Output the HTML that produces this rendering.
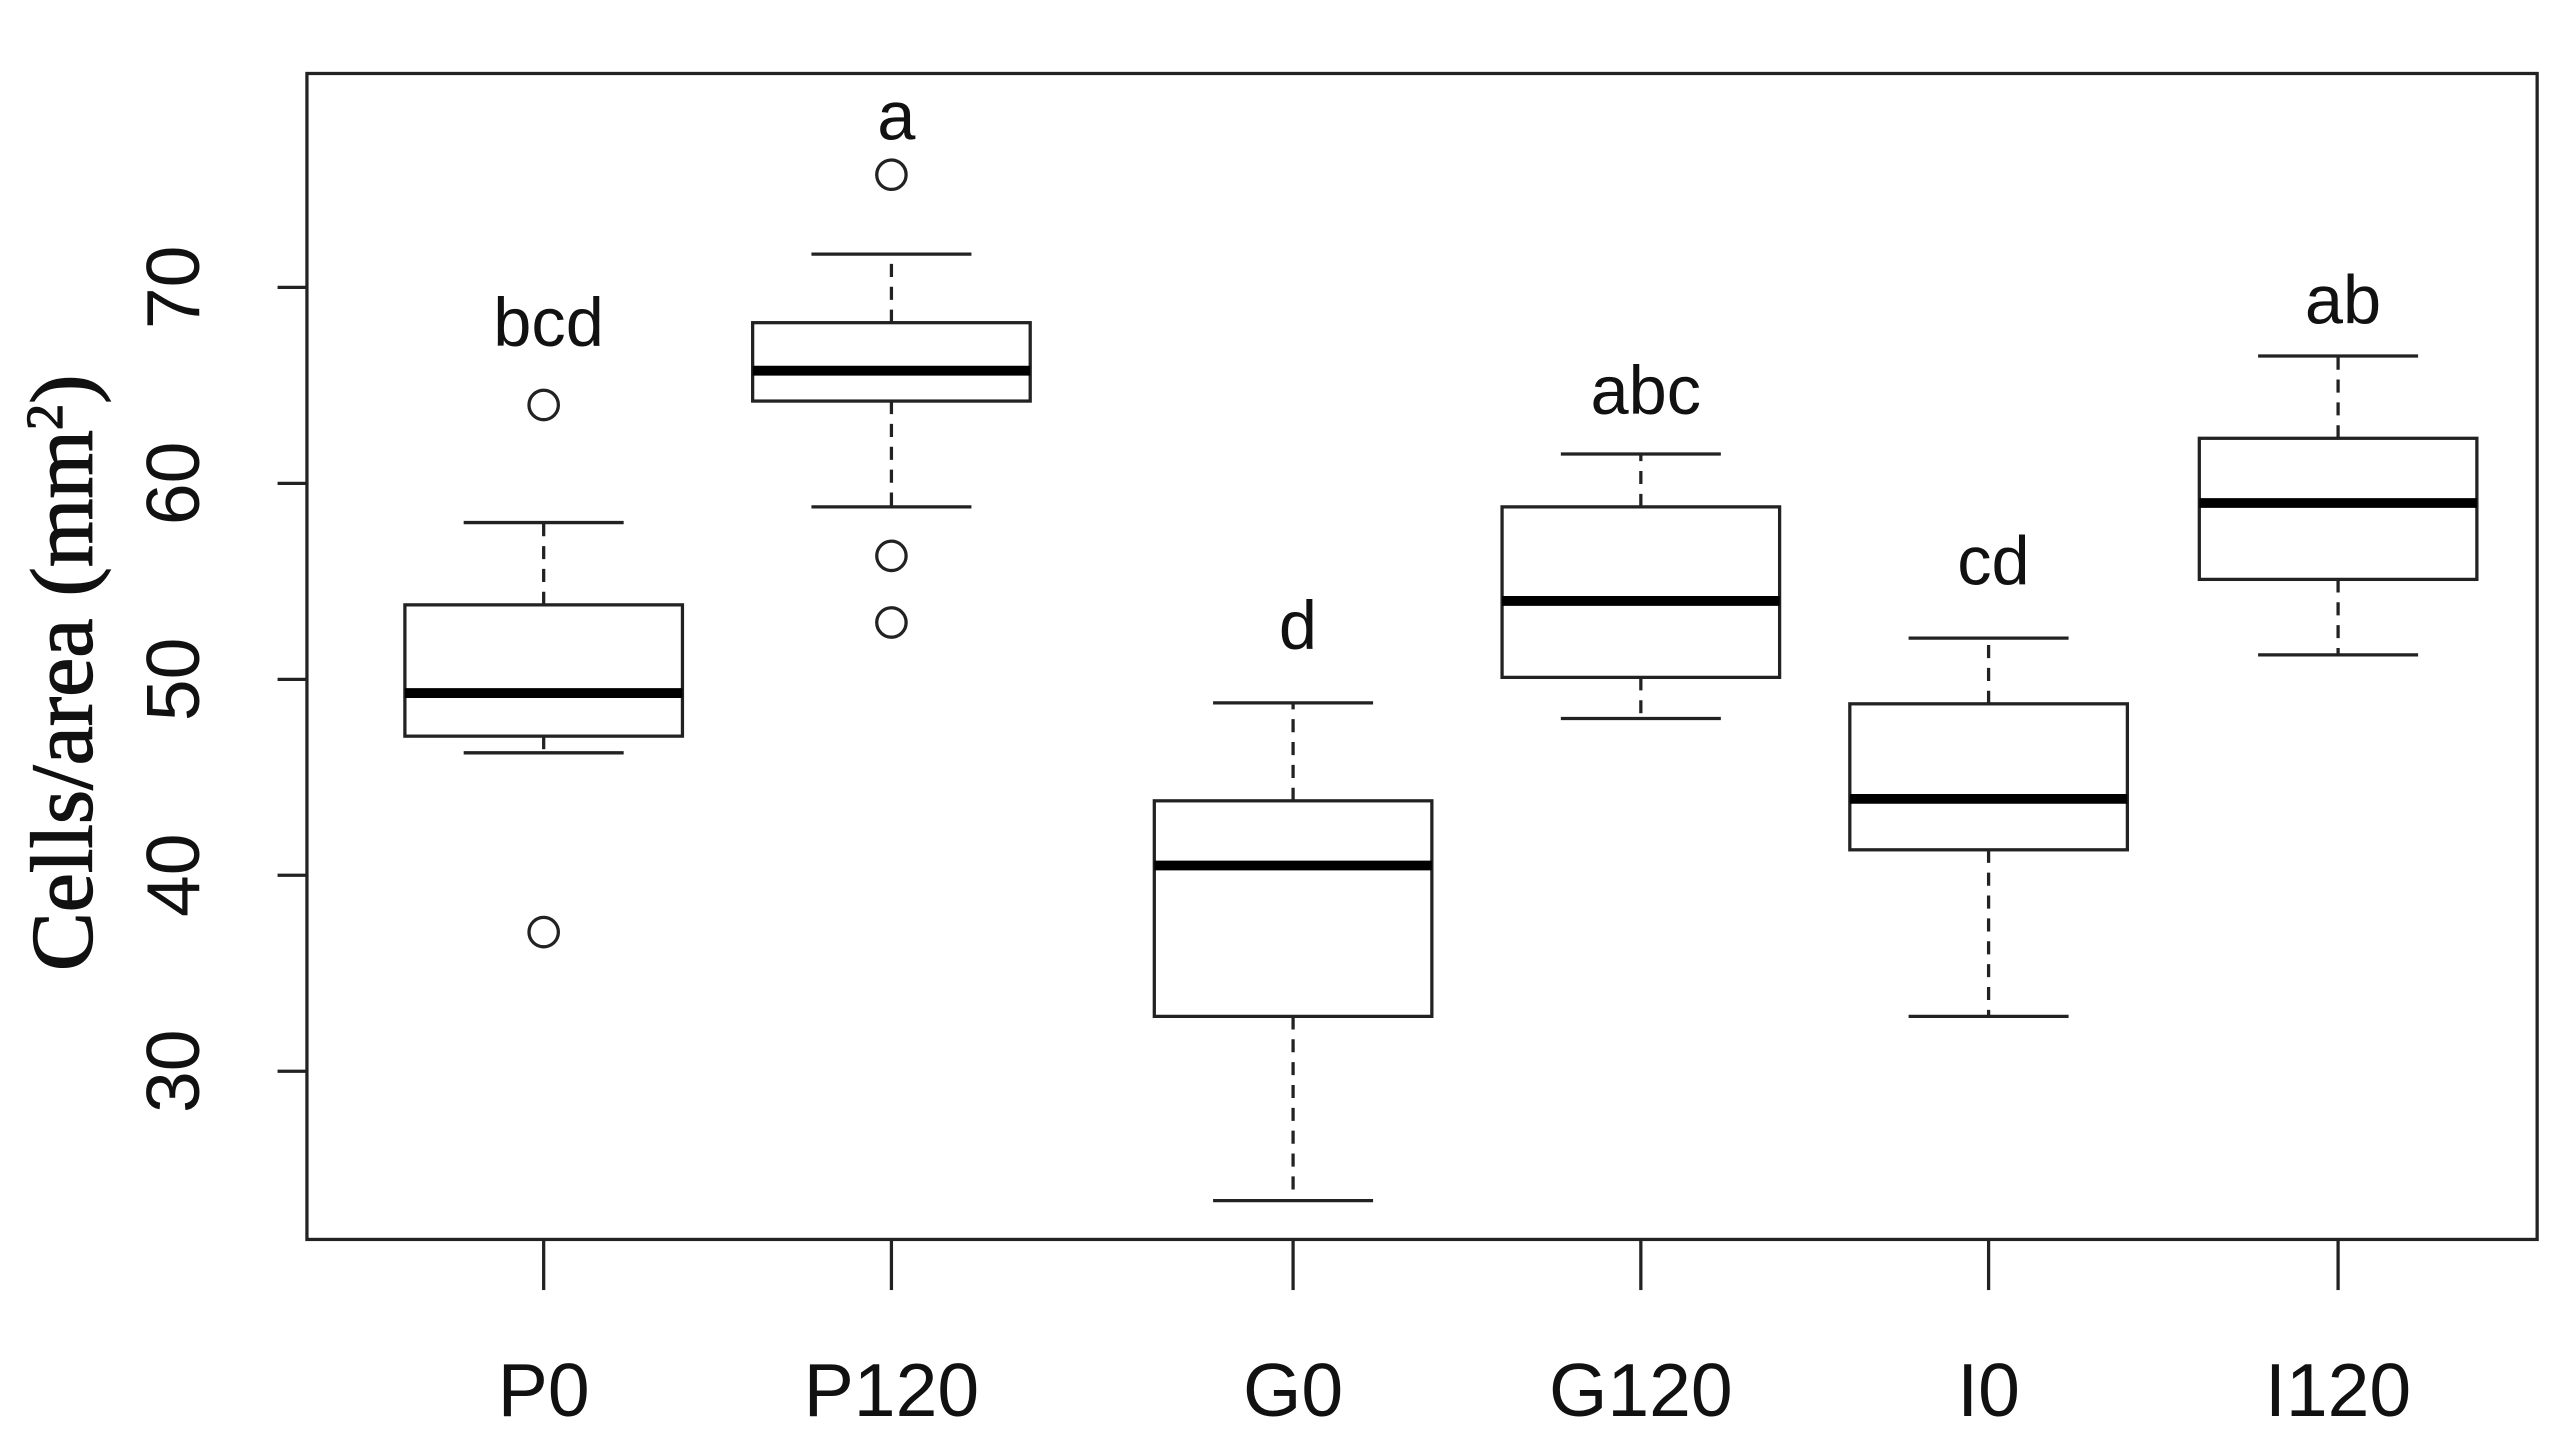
<!DOCTYPE html>
<html><head><meta charset="utf-8"><style>
html,body{margin:0;padding:0;background:#fff;width:2560px;height:1455px;overflow:hidden}
svg{display:block}
</style></head><body>
<svg id="chart" width="2560" height="1455" viewBox="0 0 1568 891" preserveAspectRatio="none" xmlns="http://www.w3.org/2000/svg">
<rect x="188" y="45" width="1366" height="714" fill="none" stroke="#222" stroke-width="2"/>
<text transform="translate(56,412) rotate(-90)" text-anchor="middle" font-family="Liberation Serif, serif" font-size="54" fill="#111" stroke="#111" stroke-width="0.8">Cells/area (mm<tspan font-size="32" dy="-18">2</tspan><tspan dy="18">)</tspan></text>
<g id="g"></g>
</svg>
<script>
const categories=["P0","P120","G0","G120","I0","I120"];
const positions=[1,2,3.155,4.155,5.155,6.16];
const lowWhisker=[46.25,58.8,23.4,48,32.8,51.25];
const q1=[47.1,64.2,32.8,50.1,41.3,55.1];
const median=[49.3,65.75,40.5,54,43.9,59];
const q3=[53.8,68.2,43.8,58.8,48.75,62.3];
const highWhisker=[58,71.7,48.8,61.5,52.1,66.5];
const outliers=[[64,37.1],[75.75,56.3,52.9],[],[],[],[]];
const letters=["bcd","a","d","abc","cd","ab"];
const letterY=[68.25,78.8,52.8,64.8,56.1,69.4];
const yTicks=[30,40,50,60,70];
const NS="http://www.w3.org/2000/svg";
const g=document.getElementById('g');
const X=a=>333+(a-1)*213;
const Y=v=>176+(70-v)*12;
function mk(t,at){const e=document.createElementNS(NS,t);for(const k in at)e.setAttribute(k,at[k]);g.appendChild(e);return e;}
yTicks.forEach(v=>{
  const l=mk('line',{x1:170,x2:188,y1:Y(v),y2:Y(v),stroke:'#222','stroke-width':2});
  
  
  const t=mk('text',{transform:`translate(122,${Y(v)}) rotate(-90)`,'text-anchor':'middle','font-family':'Liberation Sans, sans-serif','font-size':46,fill:'#111'});
  t.textContent=v;
  
  
});
categories.forEach((c,i)=>{
  const x=X(positions[i]),hw=85,cw=49;
  const tk=mk('line',{x1:x,x2:x,y1:759,y2:790,stroke:'#222','stroke-width':2});
  
  
  const xl=mk('text',{x:x,y:867,'text-anchor':'middle','font-family':'Liberation Sans, sans-serif','font-size':46,fill:'#111'});
  xl.textContent=c;
  
  
  const w1=mk('line',{x1:x,x2:x,y1:Y(q3[i]),y2:Y(highWhisker[i]),stroke:'#222','stroke-width':2,'stroke-dasharray':'8,6'});
  
  
  const w2=mk('line',{x1:x,x2:x,y1:Y(q1[i]),y2:Y(lowWhisker[i]),stroke:'#222','stroke-width':2,'stroke-dasharray':'8,6'});
  
  
  [highWhisker[i],lowWhisker[i]].forEach(v=>{
    const cap=mk('line',{x1:x-cw,x2:x+cw,y1:Y(v),y2:Y(v),stroke:'#222','stroke-width':2});
    
    
  });
  const b=mk('rect',{x:x-hw,y:Y(q3[i]),width:2*hw,height:Y(q1[i])-Y(q3[i]),fill:'#fff',stroke:'#222','stroke-width':2});
  
  
  const m=mk('line',{x1:x-hw,x2:x+hw,y1:Y(median[i]),y2:Y(median[i]),stroke:'#000','stroke-width':6});
  
  
  outliers[i].forEach(v=>{
    const o=mk('circle',{cx:x,cy:Y(v),r:9,fill:'none',stroke:'#222','stroke-width':2});
    
    
  });
  const lt=mk('text',{x:x+3,y:Y(letterY[i])+15,'text-anchor':'middle','font-family':'Liberation Sans, sans-serif','font-size':42,fill:'#111'});
  lt.textContent=letters[i];
  
  
});
</script>
</body></html>
